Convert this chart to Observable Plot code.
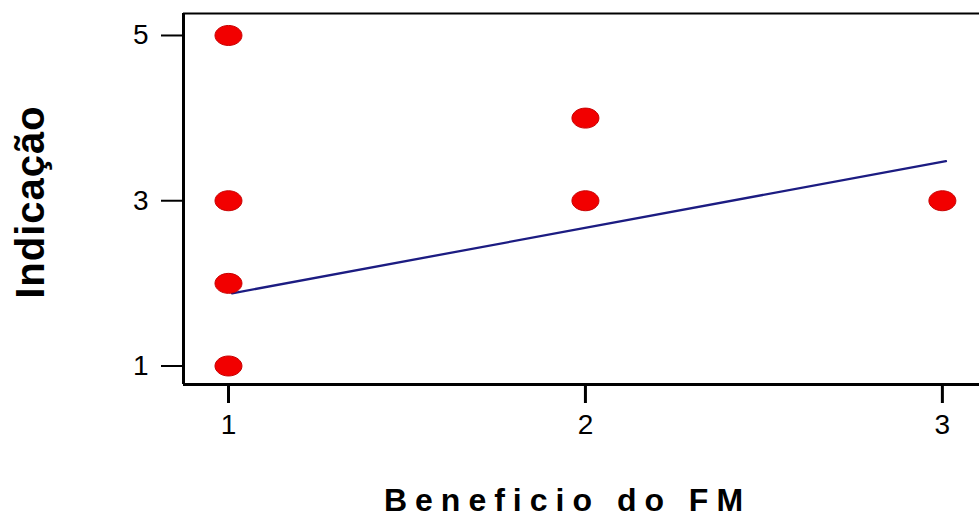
<!DOCTYPE html>
<html>
<head>
<meta charset="utf-8">
<script src="https://cdn.jsdelivr.net/npm/d3@7"></script>
<script src="https://cdn.jsdelivr.net/npm/@observablehq/plot@0.6"></script>
<style>
  html, body { margin: 0; padding: 0; background: #fff; }
</style>
</head>
<body>
<div id="chart"></div>
<script>
// Data
const beneficio = [1, 1, 1, 1, 2, 2, 3];
const indicacao = [5, 3, 2, 1, 4, 3, 3];
// fitted line endpoints
const fitX = [1.01, 3.01];
const fitY = [1.88, 3.48];
// ticks
const xTicks = [1, 2, 3];
const yTicks = [1, 3, 5];
const xLabel = "Beneficio do FM";
const yLabel = "Indicação";

const points = beneficio.map((b, i) => ({x: b, y: indicacao[i]}));
const fit = fitX.map((x, i) => ({x, y: fitY[i]}));

const xDomain = [0.874, 3.104];
const yDomain = [0.776, 5.266];

// elliptical symbol
const ellipse = {
  draw(context, size) {
    const r = Math.sqrt(size / Math.PI);
    const rx = r * 1.35, ry = r, k = 0.5523;
    context.moveTo(rx, 0);
    context.bezierCurveTo(rx, k * ry, k * rx, ry, 0, ry);
    context.bezierCurveTo(-k * rx, ry, -rx, k * ry, -rx, 0);
    context.bezierCurveTo(-rx, -k * ry, -k * rx, -ry, 0, -ry);
    context.bezierCurveTo(k * rx, -ry, rx, -k * ry, rx, 0);
    context.closePath();
  }
};

const chart = Plot.plot({
  width: 979,
  height: 522,
  marginLeft: 183,
  marginTop: 13,
  marginBottom: 138,
  marginRight: 0,
  style: {background: "white", fontFamily: "'Liberation Sans', Arial, sans-serif", color: "black"},
  x: {domain: xDomain},
  y: {domain: yDomain},
  marks: [
    Plot.axisX({ticks: xTicks, tickFormat: d => String(d), tickSize: 19, tickPadding: 11, fontSize: 28, strokeWidth: 3, label: null}),
    Plot.axisY({ticks: yTicks, tickFormat: d => String(d), tickSize: 22, tickPadding: 13, fontSize: 28, strokeWidth: 2, label: null}),
    Plot.ruleX([xDomain[0]], {stroke: "black", strokeWidth: 3}),
    Plot.ruleY([yDomain[0]], {stroke: "black", strokeWidth: 3}),
    Plot.ruleY([yDomain[1]], {stroke: "black", strokeWidth: 2}),
    Plot.line(fit, {x: "x", y: "y", stroke: "#1c1c82", strokeWidth: 2.3}),
    Plot.dot(points, {x: "x", y: "y", r: 10, symbol: ellipse, fill: "#f20000", stroke: "#c80000", strokeWidth: 1}),
    Plot.text([xLabel], {frameAnchor: "bottom", text: d => d, dx: -14, dy: 116, fontSize: 32, fontWeight: "bold", textAnchor: "middle", lineAnchor: "middle", fill: "black"}),
    Plot.text([yLabel], {frameAnchor: "left", text: d => d, rotate: -90, dx: -152, dy: 3, fontSize: 40, fontWeight: "bold", textAnchor: "middle", lineAnchor: "middle", fill: "black"})
  ]
});

// tick label size and letter spacing for the axis titles
const tickStrings = new Set([...xTicks, ...yTicks].map(String));
d3.select(chart).selectAll("text").each(function() {
  const t = this.textContent;
  if (tickStrings.has(t)) {
    this.style.fontSize = "28px";
    this.setAttribute("font-size", "28");
  }
  if (t === xLabel) this.setAttribute("letter-spacing", "8");
  if (t === yLabel) this.setAttribute("letter-spacing", "1");
});

document.getElementById("chart").appendChild(chart);
</script>
</body>
</html>
